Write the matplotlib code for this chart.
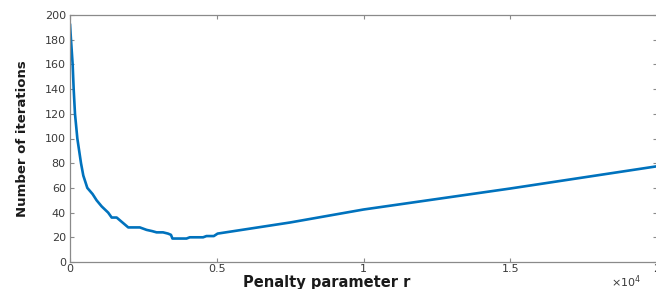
import matplotlib
matplotlib.use("Agg")
import matplotlib.pyplot as plt
from matplotlib.ticker import FixedLocator, FixedFormatter

# Data
r_values = [0, 20, 90, 125, 170, 250, 375, 453, 590, 770, 905, 1080, 1300, 1420, 1590,
            1985, 2380, 2610, 2800, 2950, 3170, 3340, 3440, 3490, 3970, 4080, 4535,
            4650, 4900, 5030, 7500, 10000, 12500, 15000, 17500, 20000]
iterations = [193, 185, 160, 140, 120, 100, 80, 70, 60, 55, 50, 45, 40, 36, 36,
              28, 28, 26, 25, 24, 24, 23, 22, 19, 19, 20, 20,
              21, 21, 23, 32, 42.5, 51, 59.5, 68.5, 77.5]
x_ticks = [0, 5000, 10000, 15000, 20000]
x_tick_labels = ["0", "0.5", "1", "1.5", "2"]
y_ticks = list(range(0, 201, 20))

W, H = 656, 289
fig = plt.figure(figsize=(W / 100, H / 100), dpi=100)
ax = fig.add_axes([70 / W, 27 / H, 587 / W, 247 / H])

ax.plot(r_values, iterations, color="#0072BD", linewidth=1.9, solid_capstyle="butt")

ax.set_xlim(0, 20000)
ax.set_ylim(0, 200)
ax.xaxis.set_major_locator(FixedLocator(x_ticks))
ax.xaxis.set_major_formatter(FixedFormatter(x_tick_labels))
ax.set_yticks(y_ticks)

tick_color = "#3a3a3a"
for s in ax.spines.values():
    s.set_color("#8a8a8a")
    s.set_linewidth(0.9)
ax.tick_params(direction="in", length=3, width=0.8, color="#8a8a8a",
               labelcolor=tick_color, labelsize=8, top=True, right=True, pad=3)
ax.tick_params(axis="x", pad=1.5)
for lab in ax.get_xticklabels() + ax.get_yticklabels():
    lab.set_family("DejaVu Sans")

ax.set_ylabel("Number of iterations", fontsize=9.5, fontweight="bold",
              family="DejaVu Sans", color="#1a1a1a")
ax.yaxis.set_label_coords(-0.07, 0.5)
ax.set_xlabel("Penalty parameter r", fontsize=10.5, fontweight="bold",
              family="DejaVu Sans", color="#1a1a1a")
ax.xaxis.set_label_coords((327 - 70) / 587, -0.052)
ax.xaxis.label.set_va("top")

fig.text(611 / W, 2 / H, "×10$^4$", fontsize=8, color=tick_color,
         ha="left", va="baseline")

fig.savefig("out.png", dpi=100)
